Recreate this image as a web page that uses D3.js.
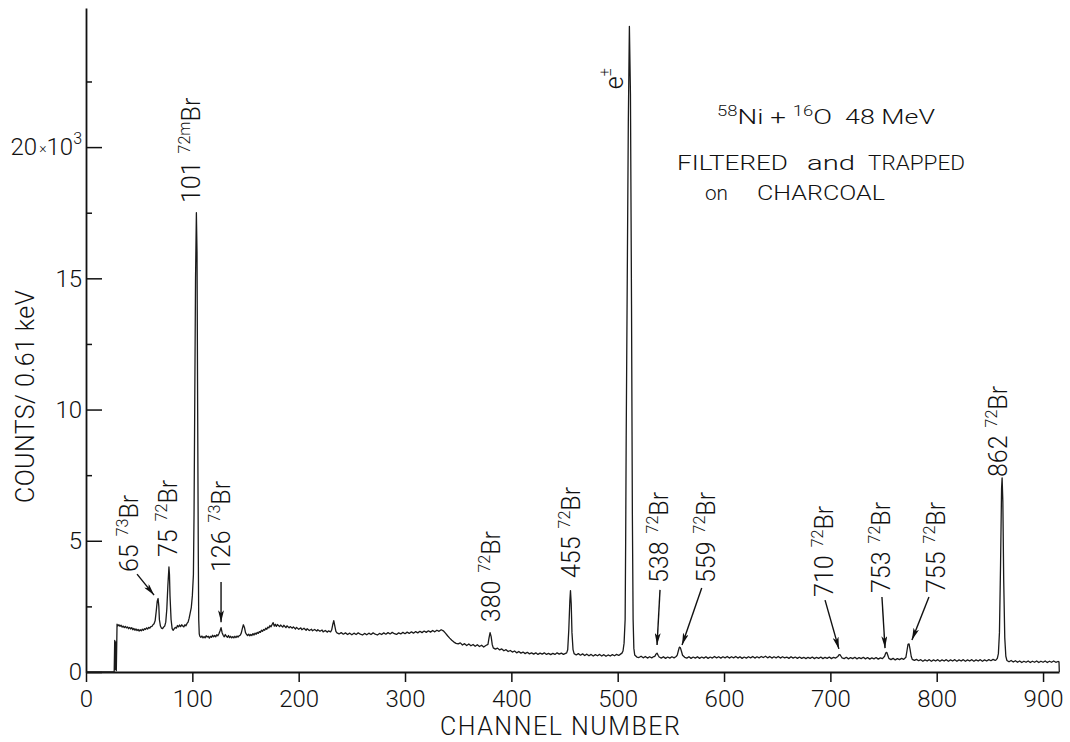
<!DOCTYPE html>
<html lang="en">

<head>
    <meta charset="UTF-8">
    <title>58Ni + 16O 48 MeV gamma spectrum</title>
    <script src="https://d3js.org/d3.v7.min.js"></script>
    <style>
        body { margin: 0; background: #fff; }
        text { font-family: "Roboto", "Liberation Sans", sans-serif; font-weight: 300; fill: #111; }
        .axis path, .axis line { stroke: #111; }
        .axis text { font-size: 24px; font-family: "Roboto", "Liberation Sans", sans-serif; font-weight: 300; fill: #111; }
    </style>
</head>

<body>
    <script>

        // x ticks (channel) and y ticks (counts)
        const xTicks = [0, 100, 200, 300, 400, 500, 600, 700, 800, 900];
        const yMajor = [0, 5000, 10000, 15000, 20000];
        const yMinor = [2500, 7500, 12500, 17500, 22500];

        // spectrum: [channel, counts]
        const spectrum = [
            [0, 0], [26.5, 0], [27, 1200], [27.5, 100], [28, 1150], [28.5, 50], [29.2, 1820],
            [30, 1760], [31, 1800], [32, 1740], [33, 1780], [34, 1710], [35, 1750], [36, 1690], [37, 1740],
            [38, 1680], [39, 1720], [40, 1650], [41, 1700], [42, 1640], [43, 1690], [44, 1610], [45, 1660],
            [46, 1590], [47, 1640], [48, 1580], [49, 1620], [50, 1560], [51, 1610], [52, 1570], [53, 1630],
            [54, 1590], [55, 1650], [56, 1620], [57, 1680], [58, 1640], [59, 1700], [60, 1670], [61, 1730],
            [62, 1740], [63, 1800], [64, 1840], [65, 1950], [66, 2300], [67, 2700], [67.8, 2800], [68.5, 2500],
            [69, 2000], [70, 1750], [71, 1670], [72, 1650], [73, 1710], [74, 1750], [75, 1900], [76, 2400],
            [77, 3300], [78, 4000], [78.5, 3700], [79, 2900], [80, 2000], [81, 1650], [82, 1590], [83, 1650],
            [84, 1700], [85, 1670], [86, 1770], [87, 1720], [88, 1790], [89, 1730], [90, 1800], [91, 1750],
            [92, 1720], [93, 1800], [94, 1760], [95, 1850], [96, 1900], [97, 2050], [98, 2250], [99, 2450],
            [100, 2900], [101, 3700], [101.6, 6000], [102.3, 10500], [103, 15000], [103.8, 17500], [104.4, 16000],
            [105, 10000], [105.6, 4500], [106, 2000], [106.5, 1450], [107, 1370],
            [108, 1320], [109, 1370], [110, 1300], [111, 1350], [112, 1300], [113, 1380], [114, 1330],
            [115, 1360], [116, 1290], [117, 1360], [118, 1320], [119, 1400], [120, 1340], [121, 1390],
            [122, 1340], [123, 1420], [124, 1380], [125, 1460], [126, 1560], [127, 1690], [128, 1500],
            [129, 1400], [130, 1340], [131, 1430], [132, 1360], [133, 1320], [134, 1390], [135, 1310],
            [136, 1360], [137, 1300], [138, 1350], [139, 1300], [140, 1360], [141, 1310], [142, 1370],
            [143, 1330], [144, 1380], [145, 1400], [146, 1480], [147, 1650], [148, 1800], [149, 1700],
            [150, 1500], [151, 1430], [152, 1390], [153, 1440], [154, 1380], [155, 1430], [156, 1390],
            [157, 1460], [158, 1410], [159, 1480], [160, 1440], [161, 1510], [162, 1470], [163, 1540],
            [164, 1510], [165, 1590], [166, 1550], [167, 1620], [168, 1590], [169, 1670], [170, 1630],
            [171, 1710], [172, 1680], [173, 1770], [174, 1720], [175, 1810], [176, 1880], [177, 1750],
            [178, 1820], [179, 1740], [180, 1810], [182, 1730], [183, 1790], [185, 1710], [186, 1780],
            [188, 1690], [189, 1760], [191, 1680], [192, 1730], [194, 1670], [195, 1720], [197, 1640],
            [198, 1700], [200, 1630], [202, 1680], [203, 1610], [205, 1670], [207, 1590], [208, 1650],
            [210, 1580], [212, 1630], [213, 1570], [215, 1620], [217, 1560], [218, 1610], [220, 1550],
            [222, 1600], [223, 1530], [225, 1580], [227, 1520], [228, 1570], [230, 1530], [231, 1600],
            [232, 1800], [233, 1960], [234, 1750], [235, 1550], [236, 1490], [238, 1450], [240, 1500],
            [242, 1440], [244, 1490], [246, 1430], [248, 1480], [250, 1420], [252, 1480], [254, 1430],
            [256, 1490], [258, 1440], [260, 1410], [262, 1470], [264, 1420], [266, 1480], [268, 1430],
            [270, 1490], [272, 1440], [274, 1410], [276, 1470], [278, 1430], [280, 1490], [282, 1440],
            [284, 1500], [286, 1450], [288, 1510], [290, 1460], [292, 1430], [294, 1490], [296, 1450],
            [298, 1510], [300, 1460], [302, 1520], [304, 1470], [306, 1530], [308, 1480], [310, 1540],
            [312, 1490], [314, 1550], [316, 1500], [318, 1560], [320, 1510], [322, 1570], [324, 1520],
            [326, 1580], [328, 1530], [330, 1590], [332, 1550], [334, 1610], [336, 1570], [338, 1480],
            [340, 1380], [342, 1290], [344, 1210], [346, 1140], [348, 1090], [350, 1070], [352, 1110],
            [354, 1030], [356, 1080], [358, 1010], [360, 1070], [362, 1000], [364, 1050], [366, 980],
            [368, 1040], [370, 970], [372, 1020], [374, 950], [376, 1010], [378, 1050], [379, 1300],
            [380, 1500], [381, 1350], [382, 1050], [383, 920], [385, 870], [387, 910], [389, 840],
            [391, 880], [393, 810], [395, 850], [397, 780], [399, 820], [401, 760], [403, 800], [405, 730],
            [407, 780], [409, 720], [411, 760], [413, 700], [415, 750], [417, 690], [419, 730], [421, 680],
            [423, 730], [425, 670], [427, 720], [429, 680], [431, 730], [433, 670], [435, 710], [437, 660],
            [439, 710], [441, 670], [443, 730], [445, 680], [447, 720], [449, 670], [451, 710], [452, 730],
            [453, 850], [454, 1600], [455, 2700], [455.6, 3100], [456.3, 2600], [457, 1500], [458, 850],
            [459, 700], [461, 650], [463, 700], [465, 640], [467, 690], [469, 630], [471, 680], [473, 620],
            [475, 670], [477, 610], [479, 660], [481, 620], [483, 670], [485, 610], [487, 660], [489, 600],
            [491, 650], [493, 610], [495, 660], [497, 620], [499, 670], [501, 630], [503, 690], [504, 720],
            [505, 800], [506, 1100], [507, 2000], [507.5, 5000], [508, 9000], [509, 15000], [510, 21000],
            [511, 24600], [512, 22000], [513, 14000], [513.8, 6000], [514.5, 2000], [515.2, 900], [516, 650],
            [518, 570], [520, 550], [522, 600], [524, 540], [526, 590], [528, 530], [530, 580], [532, 540],
            [534, 590], [535, 600], [536, 680], [537, 720], [538, 640], [539, 570], [541, 530], [543, 580],
            [545, 520], [547, 570], [549, 530], [551, 580], [553, 540], [555, 590], [556, 640], [557, 800],
            [558, 950], [559, 920], [560, 780], [561, 640], [563, 560], [565, 530], [567, 580], [569, 520],
            [571, 570], [573, 530], [575, 580], [577, 520], [579, 570], [581, 530], [583, 580], [585, 520],
            [587, 570], [589, 530], [591, 590], [593, 540], [595, 580], [597, 530], [599, 580], [601, 540],
            [603, 590], [605, 530], [607, 580], [609, 540], [611, 590], [613, 530], [615, 580], [617, 520],
            [619, 570], [621, 530], [623, 580], [625, 540], [627, 590], [629, 530], [631, 580], [633, 540],
            [635, 590], [637, 550], [639, 600], [641, 540], [643, 590], [645, 530], [647, 580], [649, 540],
            [651, 590], [653, 530], [655, 580], [657, 540], [659, 570], [661, 520], [663, 580], [665, 530],
            [667, 570], [669, 520], [671, 570], [673, 520], [675, 560], [677, 510], [679, 560], [681, 520],
            [683, 570], [685, 510], [687, 560], [689, 520], [691, 570], [693, 510], [695, 560], [697, 520],
            [699, 570], [701, 510], [703, 560], [705, 530], [707, 590], [708, 650], [709, 660], [710, 600],
            [711, 540], [713, 510], [715, 560], [717, 500], [719, 550], [721, 510], [723, 560], [725, 500],
            [727, 550], [729, 510], [731, 560], [733, 500], [735, 550], [737, 490], [739, 540], [741, 500],
            [743, 550], [745, 490], [747, 540], [749, 510], [751, 600], [752, 720], [753, 750], [754, 640],
            [755, 520], [757, 470], [759, 520], [761, 460], [763, 510], [765, 470], [767, 520], [769, 480],
            [771, 560], [772, 800], [773, 1050], [774, 1070], [775, 850], [776, 600], [777, 480], [779, 440],
            [781, 480], [783, 430], [785, 470], [787, 410], [789, 460], [791, 420], [793, 470], [795, 410],
            [797, 460], [799, 420], [801, 470], [803, 410], [805, 460], [807, 420], [809, 470], [811, 410],
            [813, 460], [815, 420], [817, 470], [819, 410], [821, 460], [823, 420], [825, 470], [827, 410],
            [829, 460], [831, 420], [833, 470], [835, 410], [837, 460], [839, 420], [841, 470], [843, 410],
            [845, 460], [847, 420], [849, 470], [851, 430], [853, 480], [855, 440], [856, 470], [857, 520],
            [858, 700], [859, 1500], [860, 4000], [861, 7000], [861.5, 7400], [862.2, 6500], [863, 3500],
            [864, 1300], [865, 600], [866, 440], [868, 390], [870, 440], [872, 380], [874, 430], [876, 370],
            [878, 420], [880, 360], [882, 410], [884, 370], [886, 420], [888, 360], [890, 410], [892, 370],
            [894, 420], [896, 360], [898, 410], [900, 370], [902, 420], [904, 360], [906, 410], [908, 370],
            [910, 420], [912, 370], [914, 400], [915, 390], [915.3, 0]
        ];

        // peak labels: energy (keV), isotope, where the label starts, optional arrow (all in channel / counts)
        const peaks = [
            { energy: "65", iso: "73", at: [48.9, 3810], arrow: [[48, 3730], [64, 2930]] },
            { energy: "75", iso: "72", at: [85.6, 4380] },
            { energy: "101", iso: "72m", at: [107, 17870] },
            { energy: "126", iso: "73", at: [135.4, 3810], arrow: [[127, 3430], [127, 1900]] },
            { energy: "380", iso: "72", at: [389, 1900] },
            { energy: "455", iso: "72", at: [464.5, 3580] },
            { energy: "538", iso: "72", at: [547, 3390], arrow: [[539.8, 3130], [537, 1030]] },
            { energy: "559", iso: "72", at: [591.5, 3390], arrow: [[579, 3200], [560.5, 1030]] },
            { energy: "710", iso: "72", at: [702.5, 2860], arrow: [[695, 2740], [708, 880]] },
            { energy: "753", iso: "72", at: [756, 3010], arrow: [[748.5, 2860], [751.4, 910]] },
            { energy: "755", iso: "72", at: [807.8, 3010], arrow: [[792.7, 2860], [776.7, 1220]] },
            { energy: "862", iso: "72", at: [866, 7430] }
        ];

        const w = 1070;
        const h = 742;

        const svg = d3.select("body")
            .append("svg")
            .attr("width", w)
            .attr("height", h);

        svg.append("defs").append("marker")
            .attr("id", "arrow")
            .attr("markerUnits", "userSpaceOnUse")
            .attr("markerWidth", 12)
            .attr("markerHeight", 6)
            .attr("refX", 12)
            .attr("refY", 3)
            .attr("orient", "auto")
            .append("path")
            .attr("d", "M0,0 L12,3 L0,6 L3,3 z")
            .attr("fill", "#111");

        const xScale = d3.scaleLinear().domain([0, 915]).range([86, 1059]);
        const yScale = d3.scaleLinear().domain([0, 25300]).range([672, 8]);

        //axes
        const xAxis = d3.axisBottom(xScale)
            .tickValues(xTicks)
            .tickSize(10)
            .tickSizeOuter(0)
            .tickPadding(8)
            .tickFormat(d3.format("d"));

        svg.append("g")
            .attr("class", "axis")
            .attr("transform", "translate(0," + yScale(0) + ")")
            .call(xAxis)
            .call(g => g.select(".domain").attr("stroke-width", 1.8))
            .call(g => g.selectAll(".tick line").attr("stroke-width", 1.5));

        const yAxis = d3.axisLeft(yScale)
            .tickValues(yMajor)
            .tickSize(-16)
            .tickSizeOuter(0)
            .tickPadding(4)
            .tickFormat(d => d / 1000);

        const yG = svg.append("g")
            .attr("class", "axis")
            .attr("transform", "translate(" + xScale(0) + ",0)")
            .call(yAxis)
            .call(g => g.select(".domain").attr("stroke-width", 1.8))
            .call(g => g.selectAll(".tick line").attr("stroke-width", 1.5));

        // "20x10^3" label
        yG.selectAll(".tick text")
            .filter(d => d === 20000)
            .text(null)
            .call(t => {
                t.append("tspan").text("20");
                t.append("tspan").attr("font-size", 14).attr("dx", 2).attr("dy", -2).text("×");
                t.append("tspan").attr("dy", 2).text("10");
                t.append("tspan").attr("font-size", 16).attr("dy", -11).text("3");
            });

        svg.append("g")
            .attr("class", "axis")
            .attr("transform", "translate(" + xScale(0) + ",0)")
            .call(d3.axisLeft(yScale).tickValues(yMinor).tickSize(-6).tickFormat(""))
            .call(g => g.select(".domain").remove())
            .call(g => g.selectAll(".tick line").attr("stroke-width", 1.5));

        //axis titles
        svg.append("text")
            .attr("x", 440)
            .attr("y", 735)
            .attr("font-size", 25)
            .attr("textLength", 240)
            .attr("lengthAdjust", "spacing")
            .text("CHANNEL  NUMBER");

        svg.append("text")
            .attr("transform", "translate(34,503) rotate(-90)")
            .attr("font-size", 25)
            .attr("textLength", 213)
            .attr("lengthAdjust", "spacing")
            .text("COUNTS/ 0.61 keV");

        //spectrum
        const line = d3.line()
            .x(d => xScale(d[0]))
            .y(d => yScale(d[1]));

        svg.append("path")
            .datum(spectrum)
            .attr("d", line)
            .attr("fill", "none")
            .attr("stroke", "#1a1a1a")
            .attr("stroke-width", 1.3)
            .attr("stroke-linejoin", "round");

        //peak labels
        peaks.forEach(p => {
            const px = xScale(p.at[0]);
            const py = yScale(p.at[1]);
            const t = svg.append("text")
                .attr("transform", "translate(" + px + "," + py + ") rotate(-90)")
                .attr("font-size", 25);
            t.append("tspan").text(p.energy);
            t.append("tspan").attr("font-size", 16).attr("dx", 8).attr("dy", -10).text(p.iso);
            t.append("tspan").attr("dy", 10).text("Br");

            if (p.arrow) {
                svg.append("line")
                    .attr("x1", xScale(p.arrow[0][0]))
                    .attr("y1", yScale(p.arrow[0][1]))
                    .attr("x2", xScale(p.arrow[1][0]))
                    .attr("y2", yScale(p.arrow[1][1]))
                    .attr("stroke", "#111")
                    .attr("stroke-width", 1.4)
                    .attr("marker-end", "url(#arrow)");
            }
        });

        // annihilation peak label
        const e = svg.append("text")
            .attr("transform", "translate(" + xScale(505) + "," + yScale(22200) + ") rotate(-90)")
            .attr("font-size", 25);
        e.append("tspan").text("e");
        e.append("tspan").attr("font-size", 16).attr("dy", -12).text("±");

        //reaction note, one piece per word group
        const note1 = svg.append("text")
            .attr("x", 717)
            .attr("y", 124)
            .attr("font-size", 21)
            .attr("textLength", 115)
            .attr("lengthAdjust", "spacingAndGlyphs");
        note1.append("tspan").attr("font-size", 14).attr("dy", -8).text("58");
        note1.append("tspan").attr("dy", 8).text("Ni + ");
        note1.append("tspan").attr("font-size", 14).attr("dy", -8).text("16");
        note1.append("tspan").attr("dy", 8).text("O");

        const words = [
            { t: "48 MeV", x: 845, y: 124, len: 90 },
            { t: "FILTERED", x: 677, y: 170, len: 111 },
            { t: "and", x: 807, y: 170, len: 48 },
            { t: "TRAPPED", x: 868, y: 170, len: 97 },
            { t: "on", x: 705, y: 200, len: 23 },
            { t: "CHARCOAL", x: 757, y: 200, len: 128 }
        ];

        svg.selectAll(".note")
            .data(words)
            .enter()
            .append("text")
            .attr("class", "note")
            .attr("x", d => d.x)
            .attr("y", d => d.y)
            .attr("font-size", 21)
            .attr("textLength", d => d.len)
            .attr("lengthAdjust", "spacingAndGlyphs")
            .text(d => d.t);

    </script>
</body>

</html>
